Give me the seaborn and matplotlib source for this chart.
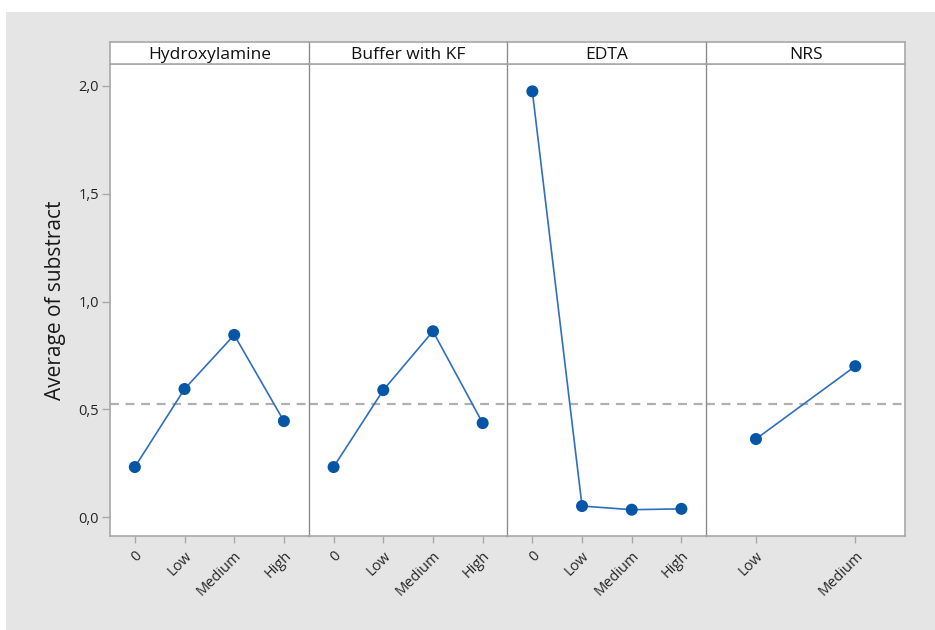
import matplotlib
matplotlib.use("Agg")
import matplotlib.pyplot as plt
from matplotlib.patches import Rectangle
import seaborn as sns
import pandas as pd

# Main effects: mean response at each factor level
factors = ["Hydroxylamine", "Buffer with KF", "EDTA", "NRS"]
hydroxylamine_levels = ["0", "Low", "Medium", "High"]
hydroxylamine_means = [0.232, 0.594, 0.845, 0.445]
buffer_levels = ["0", "Low", "Medium", "High"]
buffer_means = [0.232, 0.589, 0.862, 0.436]
edta_levels = ["0", "Low", "Medium", "High"]
edta_means = [1.975, 0.051, 0.034, 0.038]
nrs_levels = ["Low", "Medium"]
nrs_means = [0.362, 0.700]
grand_mean = 0.524

y_ticks = [0.0, 0.5, 1.0, 1.5, 2.0]
y_tick_labels = ["0,0", "0,5", "1,0", "1,5", "2,0"]

levels_by_factor = [hydroxylamine_levels, buffer_levels, edta_levels, nrs_levels]
means_by_factor = [hydroxylamine_means, buffer_means, edta_means, nrs_means]

rows = []
for f, lv, mv in zip(factors, levels_by_factor, means_by_factor):
    for l, m in zip(lv, mv):
        rows.append({"factor": f, "level": l, "mean": m})
df = pd.DataFrame(rows)

sns.set_theme(style="white")
plt.rcParams["font.family"] = ["Open Sans", "DejaVu Sans"]

W, H = 935, 630
fig = plt.figure(figsize=(W / 100, H / 100), dpi=100, facecolor="white")
# grey canvas behind the plot
fig.patches.append(Rectangle((6 / W, 0), 1 - 6 / W, 1 - 12 / H, transform=fig.transFigure,
                             facecolor="#e5e5e5", edgecolor="none", zorder=-10))

left, right = 110 / W, 905 / W
bottom, top = 1 - 536 / H, 1 - 64 / H
strip_top = 1 - 42 / H
pw = (right - left) / 4

frame_col = "#a8a8a8"
div_col = "#8c8c8c"
line_col = "#2f6fbd"
mark_col = "#0656a8"
text_col = "#262626"

axes = []
for i, f in enumerate(factors):
    ax = fig.add_axes([left + i * pw, bottom, pw, top - bottom])
    sub = df[df["factor"] == f]
    sns.pointplot(data=sub, x="level", y="mean", order=levels_by_factor[i], ax=ax,
                  color=line_col, markers="o", errorbar=None, linewidth=1.2,
                  markersize=0, native_scale=False)
    sns.scatterplot(data=sub, x="level", y="mean", ax=ax, color=mark_col, s=75,
                    edgecolor="none", zorder=5)
    ax.axhline(grand_mean, color="#b0b0b0", lw=1.6, ls=(0, (4, 3)), zorder=1)
    ax.set_xlim(-0.5, len(levels_by_factor[i]) - 0.5)
    ax.set_ylim(-0.088, 2.102)
    ax.set_xlabel("")
    ax.set_ylabel("")
    ax.set_facecolor("white")
    for s in ax.spines.values():
        s.set_color(frame_col)
        s.set_linewidth(1.2)
    if i > 0:
        ax.spines["left"].set_color(div_col)
        ax.spines["left"].set_linewidth(1.0)
    if i < 3:
        ax.spines["right"].set_visible(False)
    ax.set_xticks(range(len(levels_by_factor[i])))
    ax.set_xticklabels(levels_by_factor[i], rotation=45, ha="right",
                       rotation_mode="anchor", fontsize=10.5, color=text_col)
    ax.tick_params(axis="x", bottom=True, length=5, width=1, color=frame_col, pad=4)
    if i == 0:
        ax.set_yticks(y_ticks)
        ax.set_yticklabels(y_tick_labels, fontsize=10.5, color=text_col)
        ax.tick_params(axis="y", left=True, length=6, width=1, color=frame_col, pad=2)
        ax.set_ylabel("Average of substract", fontsize=15, color="#1a1a1a", labelpad=9)
    else:
        ax.set_yticks(y_ticks)
        ax.tick_params(axis="y", left=False, labelleft=False)

    # facet header
    sax = fig.add_axes([left + i * pw, top, pw, strip_top - top])
    sax.set_facecolor("white")
    sax.set_xticks([])
    sax.set_yticks([])
    for s in sax.spines.values():
        s.set_color(frame_col)
        s.set_linewidth(1.2)
    if i > 0:
        sax.spines["left"].set_color(div_col)
        sax.spines["left"].set_linewidth(1.0)
    if i < 3:
        sax.spines["right"].set_visible(False)
    sax.text(0.5, 0.42, f, ha="center", va="center", fontsize=12.5, color="#111111",
             fontweight="medium", transform=sax.transAxes)
    axes.append(ax)

fig.savefig("out.png", dpi=100, facecolor=fig.get_facecolor())
